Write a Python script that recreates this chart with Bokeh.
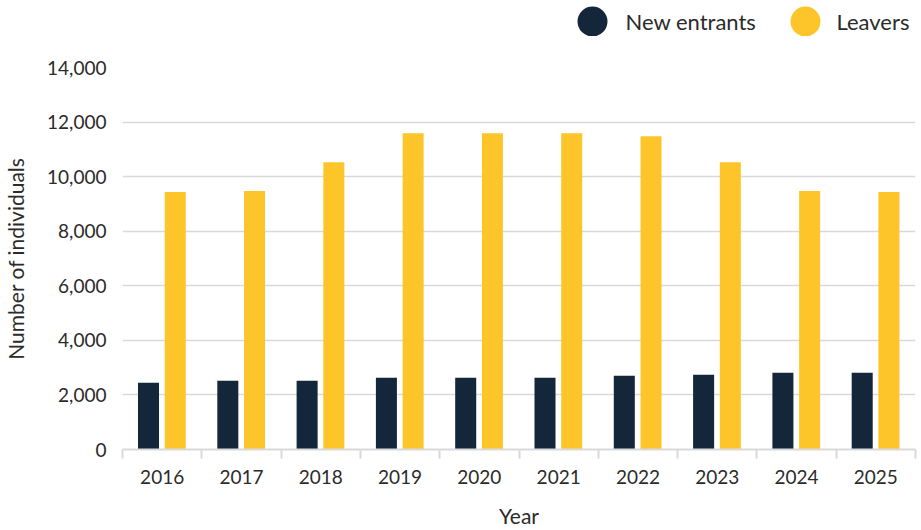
import numpy as np
from bokeh.plotting import figure
from bokeh.layouts import column
from bokeh.models import (Range1d, FixedTicker, NumeralTickFormatter, ColumnDataSource)
from bokeh.core.properties import value
from bokeh.embed import file_html
from bokeh.resources import INLINE

# ---- data ----
years = ["2016", "2017", "2018", "2019", "2020", "2021", "2022", "2023", "2024", "2025"]
new_entrants = [2450, 2520, 2520, 2630, 2630, 2630, 2700, 2740, 2810, 2810]
leavers = [9440, 9470, 10530, 11590, 11590, 11590, 11480, 10530, 9470, 9440]
y_ticks = [0, 2000, 4000, 6000, 8000, 10000, 12000, 14000]
series_names = ["New entrants", "Leavers"]

DARK = "#13263a"
YELLOW = "#fdc52a"
GRID = "#d9d9d9"
TXT = "#2b2b2b"
FONT = "Lato"

W = 918
FL, FR = 122, 915  # frame left/right in canvas px
LEG_H = 36

idx = np.arange(len(years))
src = ColumnDataSource(dict(
    x_new=idx + 0.5 - 0.172,
    x_leav=idx + 0.5 + 0.165,
    new=new_entrants,
    leav=leavers,
))

# ---- legend strip (frame aligned with the chart frame) ----
lg = figure(width=W, height=LEG_H, x_range=Range1d(FL, FR), y_range=Range1d(0, LEG_H),
            output_backend="svg", toolbar_location=None,
            min_border=0, min_border_left=FL, min_border_right=W - FR,
            outline_line_color=None)
lg.axis.visible = False
lg.grid.visible = False
lsrc = ColumnDataSource(dict(cx=[592, 805], cy=[LEG_H - 21] * 2, tx=[625, 836],
                             name=series_names, col=[DARK, YELLOW]))
lg.scatter("cx", "cy", source=lsrc, size=30, color="col", line_color=None)
lg.text("tx", "cy", text="name", source=lsrc, text_font=value(FONT),
        text_font_size="22px", text_color=TXT, text_baseline="middle", text_align="left")

# ---- main chart ----
p = figure(width=W, height=494, x_range=Range1d(0, len(years)), y_range=Range1d(0, 14000),
           output_backend="svg", toolbar_location=None,
           min_border_left=FL, min_border_right=W - FR, min_border_top=31, min_border_bottom=0,
           outline_line_color=None)

p.vbar(x="x_new", top="new", width=0.265, source=src, color=DARK, line_color=None)
p.vbar(x="x_leav", top="leav", width=0.265, source=src, color=YELLOW, line_color=None)

# x axis
p.xaxis.ticker = FixedTicker(ticks=list(idx + 0.5), minor_ticks=list(range(len(years) + 1)))
p.xaxis.major_label_overrides = {float(i + 0.5): y for i, y in enumerate(years)}
p.xaxis.major_tick_line_color = None
p.xaxis.major_tick_out = 9
p.xaxis.major_tick_in = 0
p.xaxis.minor_tick_line_color = GRID
p.xaxis.minor_tick_line_width = 2
p.xaxis.minor_tick_out = 9
p.xaxis.minor_tick_in = 0
p.xaxis.axis_line_color = GRID
p.xaxis.axis_line_width = 2
p.xaxis.major_label_standoff = 11
p.xaxis.axis_label = "Year"
p.xaxis.axis_label_standoff = 16

# y axis
p.yaxis.ticker = FixedTicker(ticks=y_ticks)
p.yaxis.formatter = NumeralTickFormatter(format="0,0")
p.yaxis.axis_line_color = None
p.yaxis.major_tick_line_color = None
p.yaxis.minor_tick_line_color = None
p.yaxis.major_tick_out = 0
p.yaxis.major_tick_in = 0
p.yaxis.major_label_standoff = 16
p.yaxis.axis_label = "Number of individuals"
p.yaxis.axis_label_standoff = 16

for ax in (p.xaxis, p.yaxis):
    ax.major_label_text_font = FONT
    ax.major_label_text_font_size = "19px"
    ax.major_label_text_color = TXT
    ax.axis_label_text_font = FONT
    ax.axis_label_text_font_size = "21px"
    ax.axis_label_text_font_style = "normal"
    ax.axis_label_text_color = TXT

p.xgrid.grid_line_color = None
p.ygrid.ticker = FixedTicker(ticks=y_ticks)
p.ygrid.grid_line_color = GRID
p.ygrid.grid_line_width = 1.5

layout = column(lg, p)
open("out.html", "w").write(file_html(layout, INLINE))
